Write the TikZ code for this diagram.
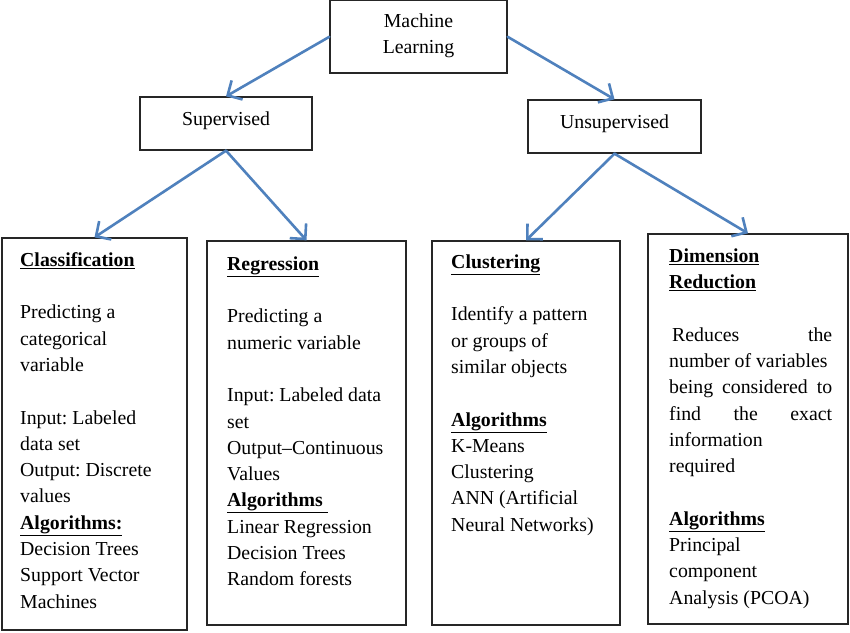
\documentclass[tikz,border=0pt]{standalone}
\usepackage{fontspec}
\setmainfont{Liberation Serif}
\usetikzlibrary{arrows.meta,fit}
\definecolor{arrowblue}{HTML}{4F81BD}
\newcommand{\jline}[1]{\leavevmode\hbox to\linewidth{#1}}
\frenchspacing
\begin{document}
\begin{tikzpicture}[x=1pt,y=-1pt,
  box/.style={draw=black!85, line width=1.3pt, inner sep=0pt},
  conn/.style={draw=arrowblue, line width=2.6pt, line cap=round,
    -{Straight Barb[length=11pt,width=22pt,line width=2.6pt]}},
  lbl/.style={font=\fontsize{19.8}{26.3}\selectfont, inner sep=0pt, align=center},
  body/.style={font=\fontsize{19.8}{26.3}\selectfont\frenchspacing, inner sep=0pt, align=flush left, anchor=north west},
]
\useasboundingbox (0,0) rectangle (850,632);
\fill[white] (0,0) rectangle (850,632);

% boxes
\node[box, fit={(330,0.6)(507,73)}] (ml) {};
\node[box, fit={(140,97)(312,150)}] (sup) {};
\node[box, fit={(528,100)(701,153)}] (uns) {};
\node[box, fit={(2,238)(187,630)}] (cls) {};
\node[box, fit={(207,241)(406,625)}] (reg) {};
\node[box, fit={(432,241)(620,625)}] (clu) {};
\node[box, fit={(648,234)(848,624)}] (dim) {};

% small box labels
\node[lbl] (mlt) at ([yshift=1pt]ml.center) {Machine\\Learning};
\node[lbl] (supt) at ([yshift=3pt]sup.center) {Supervised};
\node[lbl] (unst) at ([yshift=3pt]uns.center) {Unsupervised};

% body texts
\node[body, text width=165pt] (clst) at (20,251) {\rule{0pt}{15pt}\underline{\textbf{Classification}}\\[26.3pt]
Predicting a\\ categorical\\ variable\\[26.3pt]
Input: Labeled\\ data set\\ Output: Discrete\\ values\\
\underline{\textbf{Algorithms:}}\\
Decision Trees\\ Support Vector\\ Machines};

\node[body, text width=175pt] (regt) at (227,255) {\rule{0pt}{15pt}\underline{\textbf{Regression}}\\[26.3pt]
Predicting a\\ numeric variable\\[26.3pt]
Input: Labeled data\\ set\\ Output–Continuous\\ Values\\
\underline{\textbf{Algorithms}\ }\\
Linear Regression\\ Decision Trees\\ Random forests};

\node[body, text width=165pt] (clut) at (451,253) {\rule{0pt}{15pt}\underline{\textbf{Clustering}}\\[26.3pt]
Identify a pattern\\ or groups of\\ similar objects\\[26.3pt]
\underline{\textbf{Algorithms}}\\
K-Means\\ Clustering\\ ANN (Artificial\\ Neural Networks)};

\node[body, text width=163pt] (dimt) at (669,247) {\rule{0pt}{15pt}\underline{\textbf{Dimension}}\\
\underline{\textbf{Reduction}}\\[26.3pt]
\jline{\hspace{3pt}Reduces\hfill the}\\
number of variables\\
\jline{being\hfil considered\hfil to}\\
\jline{find\hfil the\hfil exact}\\
information\\ required\\[26.3pt]
\underline{\textbf{Algorithms}}\\
Principal\\ component\\ Analysis (PCOA)};

% connectors
\draw[conn] (ml.west) -- (sup.north);
\draw[conn] (ml.east) -- (uns.north);
\draw[conn] (sup.south) -- (cls.north);
\draw[conn] (sup.south) -- (reg.north);
\draw[conn] (uns.south) -- (clu.north);
\draw[conn] (uns.south) -- (dim.north);
\end{tikzpicture}
\end{document}
